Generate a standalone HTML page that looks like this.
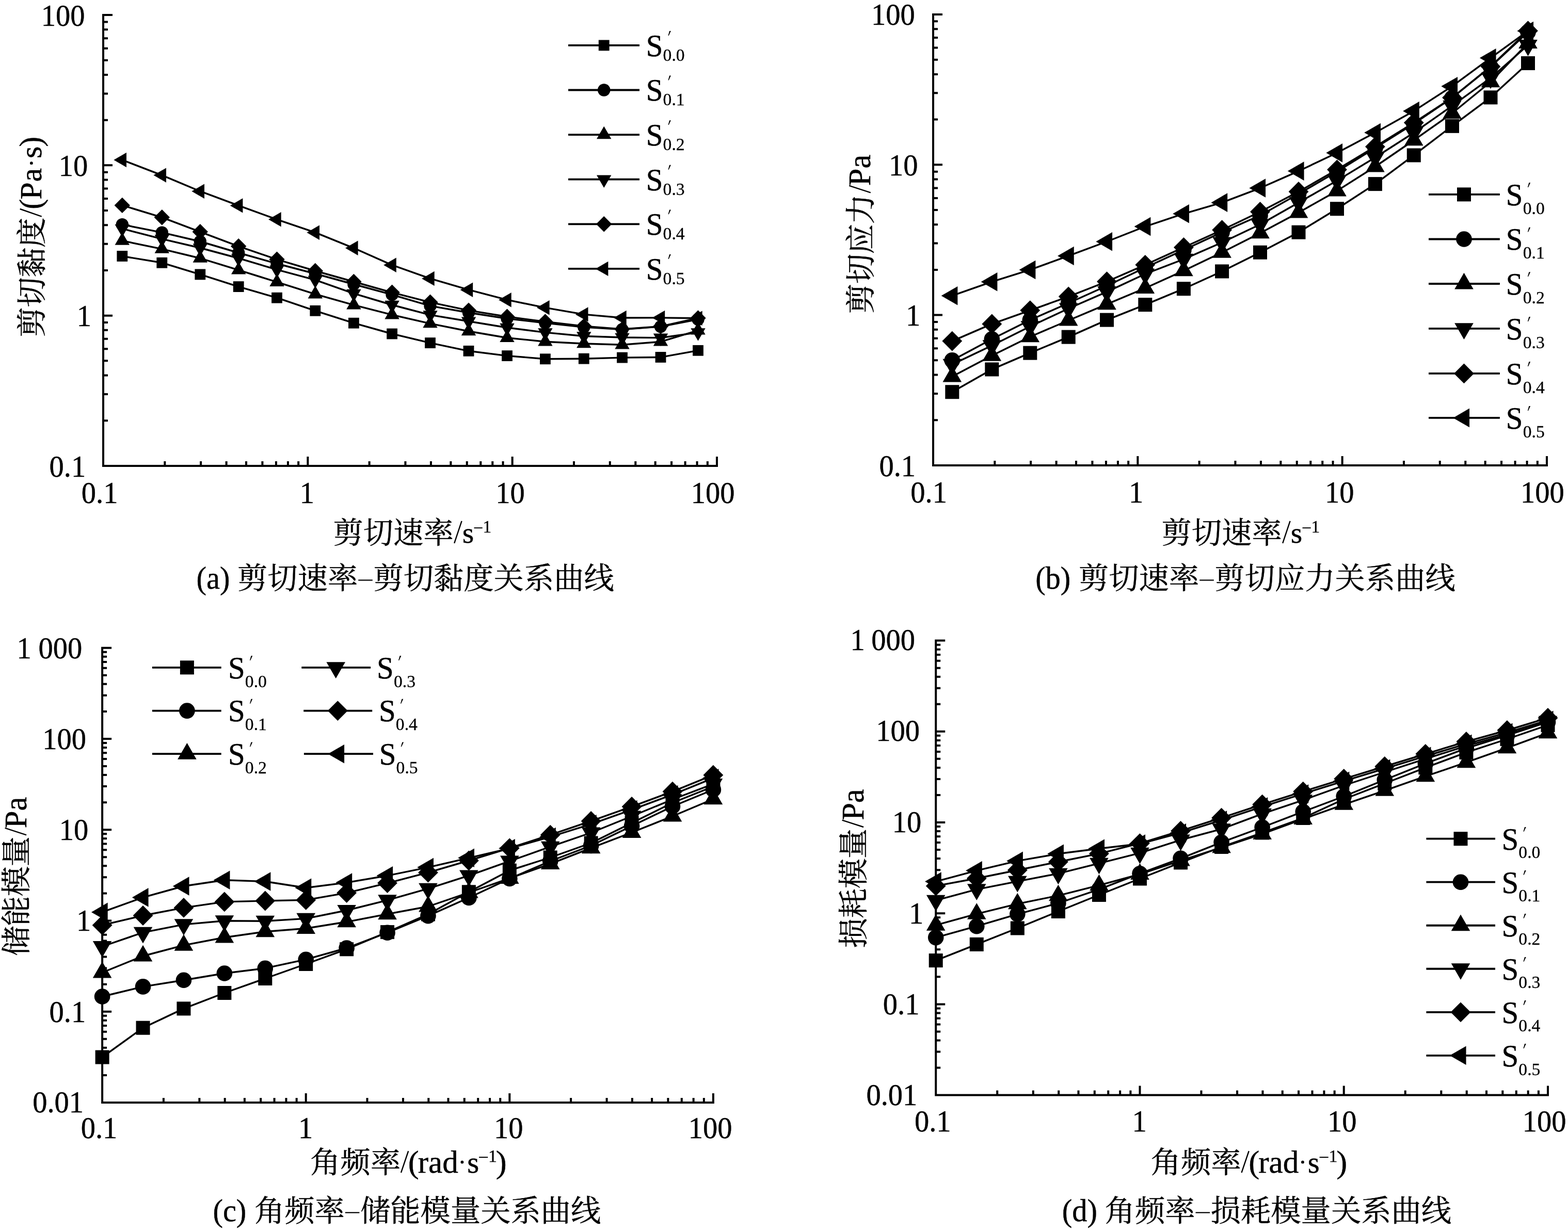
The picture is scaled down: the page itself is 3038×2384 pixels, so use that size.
<!DOCTYPE html>
<html><head><meta charset="utf-8"><title>chart</title><style>html,body{margin:0;padding:0;background:#fff}svg{display:block;will-change:transform}.t{stroke:#000;stroke-width:.45}.u{stroke:#000;stroke-width:.3}.k{font-family:"Liberation Serif","Noto Serif CJK SC",serif;font-size:58.3px;stroke:#000;stroke-width:.45}</style></head><body>
<svg width="3038" height="2384" viewBox="0 0 3038 2384" font-family="'Liberation Serif', serif" fill="#000">
<rect width="3038" height="2384" fill="#fff"/>
<path d="M200,27.1V904.91M198,902.91H1390.99M200,29.1h18M200,232.69h9M200,181.4h9M200,145.01h9M200,116.78h9M200,93.72h9M200,74.22h9M200,57.33h9M200,42.43h9M200,320.37h18M200,523.96h9M200,472.67h9M200,436.28h9M200,408.05h9M200,384.99h9M200,365.49h9M200,348.6h9M200,333.7h9M200,611.64h18M200,815.23h9M200,763.94h9M200,727.55h9M200,699.32h9M200,676.26h9M200,656.76h9M200,639.87h9M200,624.97h9M319.31,902.91v-9M389.1,902.91v-9M438.61,902.91v-9M477.02,902.91v-9M508.4,902.91v-9M534.94,902.91v-9M557.92,902.91v-9M578.19,902.91v-9M596.33,902.91v-18M715.64,902.91v-9M785.43,902.91v-9M834.94,902.91v-9M873.35,902.91v-9M904.73,902.91v-9M931.27,902.91v-9M954.25,902.91v-9M974.52,902.91v-9M992.66,902.91v-18M1111.97,902.91v-9M1181.76,902.91v-9M1231.27,902.91v-9M1269.68,902.91v-9M1301.06,902.91v-9M1327.6,902.91v-9M1350.58,902.91v-9M1370.85,902.91v-9M1388.99,902.91v-18" fill="none" stroke="#000" stroke-width="4.0"/>
<path d="M1808,26V903.9M1806,901.9H2998.99M1808,28h18M1808,231.61h9M1808,180.31h9M1808,143.92h9M1808,115.69h9M1808,92.62h9M1808,73.12h9M1808,56.23h9M1808,41.33h9M1808,319.3h18M1808,522.91h9M1808,471.61h9M1808,435.22h9M1808,406.99h9M1808,383.92h9M1808,364.42h9M1808,347.53h9M1808,332.63h9M1808,610.6h18M1808,814.21h9M1808,762.91h9M1808,726.52h9M1808,698.29h9M1808,675.22h9M1808,655.72h9M1808,638.83h9M1808,623.93h9M1927.31,901.9v-9M1997.1,901.9v-9M2046.61,901.9v-9M2085.02,901.9v-9M2116.4,901.9v-9M2142.94,901.9v-9M2165.92,901.9v-9M2186.19,901.9v-9M2204.33,901.9v-18M2323.64,901.9v-9M2393.43,901.9v-9M2442.94,901.9v-9M2481.35,901.9v-9M2512.73,901.9v-9M2539.27,901.9v-9M2562.25,901.9v-9M2582.52,901.9v-9M2600.66,901.9v-18M2719.97,901.9v-9M2789.76,901.9v-9M2839.27,901.9v-9M2877.68,901.9v-9M2909.06,901.9v-9M2935.6,901.9v-9M2958.58,901.9v-9M2978.85,901.9v-9M2996.99,901.9v-18" fill="none" stroke="#000" stroke-width="4.0"/>
<path d="M198.1,1253.7V2138.95M196.1,2136.95H1383.9M198.1,1255.7h18M198.1,1378.89h9M198.1,1347.86h9M198.1,1325.84h9M198.1,1308.76h9M198.1,1294.8h9M198.1,1283h9M198.1,1272.78h9M198.1,1263.76h9M198.1,1431.95h18M198.1,1555.14h9M198.1,1524.11h9M198.1,1502.09h9M198.1,1485.01h9M198.1,1471.05h9M198.1,1459.25h9M198.1,1449.03h9M198.1,1440.01h9M198.1,1608.2h18M198.1,1731.39h9M198.1,1700.36h9M198.1,1678.34h9M198.1,1661.26h9M198.1,1647.3h9M198.1,1635.5h9M198.1,1625.28h9M198.1,1616.26h9M198.1,1784.45h18M198.1,1907.64h9M198.1,1876.61h9M198.1,1854.59h9M198.1,1837.51h9M198.1,1823.55h9M198.1,1811.75h9M198.1,1801.53h9M198.1,1792.51h9M198.1,1960.7h18M198.1,2083.89h9M198.1,2052.86h9M198.1,2030.84h9M198.1,2013.76h9M198.1,1999.8h9M198.1,1988h9M198.1,1977.78h9M198.1,1968.76h9M316.89,2136.95v-9M386.37,2136.95v-9M435.67,2136.95v-9M473.91,2136.95v-9M505.16,2136.95v-9M531.58,2136.95v-9M554.46,2136.95v-9M574.64,2136.95v-9M592.7,2136.95v-18M711.49,2136.95v-9M780.97,2136.95v-9M830.27,2136.95v-9M868.51,2136.95v-9M899.76,2136.95v-9M926.18,2136.95v-9M949.06,2136.95v-9M969.24,2136.95v-9M987.3,2136.95v-18M1106.09,2136.95v-9M1175.57,2136.95v-9M1224.87,2136.95v-9M1263.11,2136.95v-9M1294.36,2136.95v-9M1320.78,2136.95v-9M1343.66,2136.95v-9M1363.84,2136.95v-9M1381.9,2136.95v-18" fill="none" stroke="#000" stroke-width="4.0"/>
<path d="M1813.2,1239.6V2124.6M1811.2,2122.6H3001.01M1813.2,1241.6h18M1813.2,1364.76h9M1813.2,1333.73h9M1813.2,1311.72h9M1813.2,1294.64h9M1813.2,1280.69h9M1813.2,1268.89h9M1813.2,1258.68h9M1813.2,1249.66h9M1813.2,1417.8h18M1813.2,1540.96h9M1813.2,1509.93h9M1813.2,1487.92h9M1813.2,1470.84h9M1813.2,1456.89h9M1813.2,1445.09h9M1813.2,1434.88h9M1813.2,1425.86h9M1813.2,1594h18M1813.2,1717.16h9M1813.2,1686.13h9M1813.2,1664.12h9M1813.2,1647.04h9M1813.2,1633.09h9M1813.2,1621.29h9M1813.2,1611.08h9M1813.2,1602.06h9M1813.2,1770.2h18M1813.2,1893.36h9M1813.2,1862.33h9M1813.2,1840.32h9M1813.2,1823.24h9M1813.2,1809.29h9M1813.2,1797.49h9M1813.2,1787.28h9M1813.2,1778.26h9M1813.2,1946.4h18M1813.2,2069.56h9M1813.2,2038.53h9M1813.2,2016.52h9M1813.2,1999.44h9M1813.2,1985.49h9M1813.2,1973.69h9M1813.2,1963.48h9M1813.2,1954.46h9M1932.19,2122.6v-9M2001.79,2122.6v-9M2051.18,2122.6v-9M2089.48,2122.6v-9M2120.78,2122.6v-9M2147.24,2122.6v-9M2170.16,2122.6v-9M2190.38,2122.6v-9M2208.47,2122.6v-18M2327.46,2122.6v-9M2397.06,2122.6v-9M2446.45,2122.6v-9M2484.75,2122.6v-9M2516.05,2122.6v-9M2542.51,2122.6v-9M2565.43,2122.6v-9M2585.65,2122.6v-9M2603.74,2122.6v-18M2722.73,2122.6v-9M2792.33,2122.6v-9M2841.72,2122.6v-9M2880.02,2122.6v-9M2911.32,2122.6v-9M2937.78,2122.6v-9M2960.7,2122.6v-9M2980.92,2122.6v-9M2999.01,2122.6v-18" fill="none" stroke="#000" stroke-width="4.0"/>
<polyline points="236.8,496.5 313.8,509.3 387.8,531.9 462.2,555.6 536.5,577.2 610.8,602.3 685.4,626.2 759.6,647 833.5,664.6 908,680.3 982.5,689.6 1056.4,695.8 1131.3,695.2 1205.5,693.1 1280,692.4 1352.5,679.3" fill="none" stroke="#000" stroke-width="3.4" stroke-linejoin="round"/>
<rect x="226.4" y="486.1" width="20.8" height="20.8"/>
<rect x="303.4" y="498.9" width="20.8" height="20.8"/>
<rect x="377.4" y="521.5" width="20.8" height="20.8"/>
<rect x="451.8" y="545.2" width="20.8" height="20.8"/>
<rect x="526.1" y="566.8" width="20.8" height="20.8"/>
<rect x="600.4" y="591.9" width="20.8" height="20.8"/>
<rect x="675" y="615.8" width="20.8" height="20.8"/>
<rect x="749.2" y="636.6" width="20.8" height="20.8"/>
<rect x="823.1" y="654.2" width="20.8" height="20.8"/>
<rect x="897.6" y="669.9" width="20.8" height="20.8"/>
<rect x="972.1" y="679.2" width="20.8" height="20.8"/>
<rect x="1046" y="685.4" width="20.8" height="20.8"/>
<rect x="1120.9" y="684.8" width="20.8" height="20.8"/>
<rect x="1195.1" y="682.7" width="20.8" height="20.8"/>
<rect x="1269.6" y="682" width="20.8" height="20.8"/>
<rect x="1342.1" y="668.9" width="20.8" height="20.8"/>
<polyline points="236.8,435.2 313.8,450.7 387.8,468 462.2,490 536.5,511 610.8,530.5 685.4,551 759.6,571.2 833.5,592.9 908,606 982.5,617.5 1056.4,626 1131.3,634 1205.5,638.5 1280,633 1352.5,619" fill="none" stroke="#000" stroke-width="3.4" stroke-linejoin="round"/>
<circle cx="236.8" cy="435.2" r="12.2"/>
<circle cx="313.8" cy="450.7" r="12.2"/>
<circle cx="387.8" cy="468" r="12.2"/>
<circle cx="462.2" cy="490" r="12.2"/>
<circle cx="536.5" cy="511" r="12.2"/>
<circle cx="610.8" cy="530.5" r="12.2"/>
<circle cx="685.4" cy="551" r="12.2"/>
<circle cx="759.6" cy="571.2" r="12.2"/>
<circle cx="833.5" cy="592.9" r="12.2"/>
<circle cx="908" cy="606" r="12.2"/>
<circle cx="982.5" cy="617.5" r="12.2"/>
<circle cx="1056.4" cy="626" r="12.2"/>
<circle cx="1131.3" cy="634" r="12.2"/>
<circle cx="1205.5" cy="638.5" r="12.2"/>
<circle cx="1280" cy="633" r="12.2"/>
<circle cx="1352.5" cy="619" r="12.2"/>
<polyline points="236.8,466.6 313.8,482.6 387.8,500.5 462.2,523.4 536.5,546.7 610.8,570.2 685.4,591.2 759.6,610.2 833.5,627.1 908,642 982.5,654.8 1056.4,662.2 1131.3,666 1205.5,668.3 1280,662.3 1352.5,640.3" fill="none" stroke="#000" stroke-width="3.4" stroke-linejoin="round"/>
<polygon points="236.8,450.2 251,474.8 222.6,474.8"/>
<polygon points="313.8,466.2 328,490.8 299.6,490.8"/>
<polygon points="387.8,484.1 402,508.7 373.6,508.7"/>
<polygon points="462.2,507 476.4,531.6 448,531.6"/>
<polygon points="536.5,530.3 550.7,554.9 522.3,554.9"/>
<polygon points="610.8,553.8 625,578.4 596.6,578.4"/>
<polygon points="685.4,574.8 699.6,599.4 671.2,599.4"/>
<polygon points="759.6,593.8 773.8,618.4 745.4,618.4"/>
<polygon points="833.5,610.7 847.7,635.3 819.3,635.3"/>
<polygon points="908,625.6 922.2,650.2 893.8,650.2"/>
<polygon points="982.5,638.4 996.7,663 968.3,663"/>
<polygon points="1056.4,645.8 1070.6,670.4 1042.2,670.4"/>
<polygon points="1131.3,649.6 1145.5,674.2 1117.1,674.2"/>
<polygon points="1205.5,651.9 1219.7,676.5 1191.3,676.5"/>
<polygon points="1280,645.9 1294.2,670.5 1265.8,670.5"/>
<polygon points="1352.5,623.9 1366.7,648.5 1338.3,648.5"/>
<polyline points="236.8,443.2 313.8,463.2 387.8,480.5 462.2,500.5 536.5,522.7 610.8,542.7 685.4,568.9 759.6,591 833.5,610.4 908,622.8 982.5,635 1056.4,644.4 1131.3,651.5 1205.5,654 1280,654.7 1352.5,644.4" fill="none" stroke="#000" stroke-width="3.4" stroke-linejoin="round"/>
<polygon points="236.8,459.6 251,435 222.6,435"/>
<polygon points="313.8,479.6 328,455 299.6,455"/>
<polygon points="387.8,496.9 402,472.3 373.6,472.3"/>
<polygon points="462.2,516.9 476.4,492.3 448,492.3"/>
<polygon points="536.5,539.1 550.7,514.5 522.3,514.5"/>
<polygon points="610.8,559.1 625,534.5 596.6,534.5"/>
<polygon points="685.4,585.3 699.6,560.7 671.2,560.7"/>
<polygon points="759.6,607.4 773.8,582.8 745.4,582.8"/>
<polygon points="833.5,626.8 847.7,602.2 819.3,602.2"/>
<polygon points="908,639.2 922.2,614.6 893.8,614.6"/>
<polygon points="982.5,651.4 996.7,626.8 968.3,626.8"/>
<polygon points="1056.4,660.8 1070.6,636.2 1042.2,636.2"/>
<polygon points="1131.3,667.9 1145.5,643.3 1117.1,643.3"/>
<polygon points="1205.5,670.4 1219.7,645.8 1191.3,645.8"/>
<polygon points="1280,671.1 1294.2,646.5 1265.8,646.5"/>
<polygon points="1352.5,660.8 1366.7,636.2 1338.3,636.2"/>
<polyline points="236.8,397.9 313.8,421.3 387.8,449.3 462.2,477.3 536.5,502.8 610.8,525 685.4,546 759.6,566.8 833.5,585.8 908,601.6 982.5,613.7 1056.4,623.5 1131.3,632.1 1205.5,638 1280,632.6 1352.5,616.5" fill="none" stroke="#000" stroke-width="3.4" stroke-linejoin="round"/>
<polygon points="236.8,382.7 252,397.9 236.8,413.1 221.6,397.9"/>
<polygon points="313.8,406.1 329,421.3 313.8,436.5 298.6,421.3"/>
<polygon points="387.8,434.1 403,449.3 387.8,464.5 372.6,449.3"/>
<polygon points="462.2,462.1 477.4,477.3 462.2,492.5 447,477.3"/>
<polygon points="536.5,487.6 551.7,502.8 536.5,518 521.3,502.8"/>
<polygon points="610.8,509.8 626,525 610.8,540.2 595.6,525"/>
<polygon points="685.4,530.8 700.6,546 685.4,561.2 670.2,546"/>
<polygon points="759.6,551.6 774.8,566.8 759.6,582 744.4,566.8"/>
<polygon points="833.5,570.6 848.7,585.8 833.5,601 818.3,585.8"/>
<polygon points="908,586.4 923.2,601.6 908,616.8 892.8,601.6"/>
<polygon points="982.5,598.5 997.7,613.7 982.5,628.9 967.3,613.7"/>
<polygon points="1056.4,608.3 1071.6,623.5 1056.4,638.7 1041.2,623.5"/>
<polygon points="1131.3,616.9 1146.5,632.1 1131.3,647.3 1116.1,632.1"/>
<polygon points="1205.5,622.8 1220.7,638 1205.5,653.2 1190.3,638"/>
<polygon points="1280,617.4 1295.2,632.6 1280,647.8 1264.8,632.6"/>
<polygon points="1352.5,601.3 1367.7,616.5 1352.5,631.7 1337.3,616.5"/>
<polyline points="236.8,310 313.8,339.6 387.8,370.7 462.2,398.4 536.5,425.3 610.8,450.7 685.4,480.8 759.6,513.7 833.5,539.9 908,561.7 982.5,581.2 1056.4,596.3 1131.3,609.4 1205.5,616 1280,615.9 1352.5,616.8" fill="none" stroke="#000" stroke-width="3.4" stroke-linejoin="round"/>
<polygon points="220.4,310 245,295.8 245,324.2"/>
<polygon points="297.4,339.6 322,325.4 322,353.8"/>
<polygon points="371.4,370.7 396,356.5 396,384.9"/>
<polygon points="445.8,398.4 470.4,384.2 470.4,412.6"/>
<polygon points="520.1,425.3 544.7,411.1 544.7,439.5"/>
<polygon points="594.4,450.7 619,436.5 619,464.9"/>
<polygon points="669,480.8 693.6,466.6 693.6,495"/>
<polygon points="743.2,513.7 767.8,499.5 767.8,527.9"/>
<polygon points="817.1,539.9 841.7,525.7 841.7,554.1"/>
<polygon points="891.6,561.7 916.2,547.5 916.2,575.9"/>
<polygon points="966.1,581.2 990.7,567 990.7,595.4"/>
<polygon points="1040,596.3 1064.6,582.1 1064.6,610.5"/>
<polygon points="1114.9,609.4 1139.5,595.2 1139.5,623.6"/>
<polygon points="1189.1,616 1213.7,601.8 1213.7,630.2"/>
<polygon points="1263.6,615.9 1288.2,601.7 1288.2,630.1"/>
<polygon points="1336.1,616.8 1360.7,602.6 1360.7,631"/>
<polyline points="1844.8,759.71 1921.8,715.92 1995.8,684.13 2070.2,653.14 2144.5,620.13 2218.8,590.62 2293.4,559.69 2367.6,525.96 2441.5,489.24 2516,450.18 2590.5,404.73 2664.4,356.61 2739.3,300.96 2813.5,244.32 2888,188.87 2960.5,122.48" fill="none" stroke="#000" stroke-width="3.4" stroke-linejoin="round"/>
<rect x="1831.3" y="746.21" width="27" height="27"/>
<rect x="1908.3" y="702.42" width="27" height="27"/>
<rect x="1982.3" y="670.63" width="27" height="27"/>
<rect x="2056.7" y="639.64" width="27" height="27"/>
<rect x="2131" y="606.63" width="27" height="27"/>
<rect x="2205.3" y="577.12" width="27" height="27"/>
<rect x="2279.9" y="546.19" width="27" height="27"/>
<rect x="2354.1" y="512.46" width="27" height="27"/>
<rect x="2428" y="475.74" width="27" height="27"/>
<rect x="2502.5" y="436.68" width="27" height="27"/>
<rect x="2577" y="391.23" width="27" height="27"/>
<rect x="2650.9" y="343.11" width="27" height="27"/>
<rect x="2725.8" y="287.46" width="27" height="27"/>
<rect x="2800" y="230.82" width="27" height="27"/>
<rect x="2874.5" y="175.37" width="27" height="27"/>
<rect x="2947" y="108.98" width="27" height="27"/>
<polyline points="1844.8,698.41 1921.8,657.32 1995.8,620.23 2070.2,587.54 2144.5,553.93 2218.8,518.82 2293.4,484.49 2367.6,450.16 2441.5,417.54 2516,375.88 2590.5,332.63 2664.4,286.81 2739.3,239.76 2813.5,189.72 2888,129.47 2960.5,62.18" fill="none" stroke="#000" stroke-width="3.4" stroke-linejoin="round"/>
<circle cx="1844.8" cy="698.41" r="15.3"/>
<circle cx="1921.8" cy="657.32" r="15.3"/>
<circle cx="1995.8" cy="620.23" r="15.3"/>
<circle cx="2070.2" cy="587.54" r="15.3"/>
<circle cx="2144.5" cy="553.93" r="15.3"/>
<circle cx="2218.8" cy="518.82" r="15.3"/>
<circle cx="2293.4" cy="484.49" r="15.3"/>
<circle cx="2367.6" cy="450.16" r="15.3"/>
<circle cx="2441.5" cy="417.54" r="15.3"/>
<circle cx="2516" cy="375.88" r="15.3"/>
<circle cx="2590.5" cy="332.63" r="15.3"/>
<circle cx="2664.4" cy="286.81" r="15.3"/>
<circle cx="2739.3" cy="239.76" r="15.3"/>
<circle cx="2813.5" cy="189.72" r="15.3"/>
<circle cx="2888" cy="129.47" r="15.3"/>
<circle cx="2960.5" cy="62.18" r="15.3"/>
<polyline points="1844.8,729.81 1921.8,689.22 1995.8,652.73 2070.2,620.94 2144.5,589.63 2218.8,558.52 2293.4,524.69 2367.6,489.16 2441.5,451.74 2516,411.88 2590.5,369.93 2664.4,323.01 2739.3,271.76 2813.5,219.52 2888,158.77 2960.5,83.48" fill="none" stroke="#000" stroke-width="3.4" stroke-linejoin="round"/>
<polygon points="1844.8,708.68 1863.1,740.38 1826.5,740.38"/>
<polygon points="1921.8,668.09 1940.1,699.78 1903.5,699.78"/>
<polygon points="1995.8,631.6 2014.1,663.29 1977.5,663.29"/>
<polygon points="2070.2,599.81 2088.5,631.51 2051.9,631.51"/>
<polygon points="2144.5,568.5 2162.8,600.2 2126.2,600.2"/>
<polygon points="2218.8,537.39 2237.1,569.09 2200.5,569.09"/>
<polygon points="2293.4,503.56 2311.7,535.26 2275.1,535.26"/>
<polygon points="2367.6,468.03 2385.9,499.72 2349.3,499.72"/>
<polygon points="2441.5,430.61 2459.8,462.31 2423.2,462.31"/>
<polygon points="2516,390.75 2534.3,422.45 2497.7,422.45"/>
<polygon points="2590.5,348.8 2608.8,380.49 2572.2,380.49"/>
<polygon points="2664.4,301.88 2682.7,333.58 2646.1,333.58"/>
<polygon points="2739.3,250.63 2757.6,282.33 2721,282.33"/>
<polygon points="2813.5,198.39 2831.8,230.09 2795.2,230.09"/>
<polygon points="2888,137.64 2906.3,169.33 2869.7,169.33"/>
<polygon points="2960.5,62.35 2978.8,94.05 2942.2,94.05"/>
<polyline points="1844.8,706.41 1921.8,669.82 1995.8,632.73 2070.2,598.04 2144.5,565.63 2218.8,531.02 2293.4,502.39 2367.6,469.96 2441.5,435.04 2516,392.68 2590.5,350.13 2664.4,305.21 2739.3,257.26 2813.5,205.22 2888,151.17 2960.5,87.58" fill="none" stroke="#000" stroke-width="3.4" stroke-linejoin="round"/>
<polygon points="1844.8,727.54 1863.1,695.85 1826.5,695.85"/>
<polygon points="1921.8,690.95 1940.1,659.25 1903.5,659.25"/>
<polygon points="1995.8,653.86 2014.1,622.16 1977.5,622.16"/>
<polygon points="2070.2,619.18 2088.5,587.48 2051.9,587.48"/>
<polygon points="2144.5,586.77 2162.8,555.07 2126.2,555.07"/>
<polygon points="2218.8,552.16 2237.1,520.46 2200.5,520.46"/>
<polygon points="2293.4,523.53 2311.7,491.83 2275.1,491.83"/>
<polygon points="2367.6,491.09 2385.9,459.39 2349.3,459.39"/>
<polygon points="2441.5,456.17 2459.8,424.48 2423.2,424.48"/>
<polygon points="2516,413.82 2534.3,382.12 2497.7,382.12"/>
<polygon points="2590.5,371.26 2608.8,339.56 2572.2,339.56"/>
<polygon points="2664.4,326.34 2682.7,294.65 2646.1,294.65"/>
<polygon points="2739.3,278.39 2757.6,246.69 2721,246.69"/>
<polygon points="2813.5,226.35 2831.8,194.66 2795.2,194.66"/>
<polygon points="2888,172.3 2906.3,140.6 2869.7,140.6"/>
<polygon points="2960.5,108.71 2978.8,77.01 2942.2,77.01"/>
<polyline points="1844.8,661.11 1921.8,627.92 1995.8,601.53 2070.2,574.84 2144.5,545.73 2218.8,513.32 2293.4,479.49 2367.6,445.76 2441.5,410.44 2516,371.48 2590.5,328.83 2664.4,284.31 2739.3,237.86 2813.5,189.22 2888,129.07 2960.5,59.68" fill="none" stroke="#000" stroke-width="3.4" stroke-linejoin="round"/>
<polygon points="1844.8,641.71 1864.2,661.11 1844.8,680.51 1825.4,661.11"/>
<polygon points="1921.8,608.52 1941.2,627.92 1921.8,647.32 1902.4,627.92"/>
<polygon points="1995.8,582.13 2015.2,601.53 1995.8,620.93 1976.4,601.53"/>
<polygon points="2070.2,555.44 2089.6,574.84 2070.2,594.24 2050.8,574.84"/>
<polygon points="2144.5,526.33 2163.9,545.73 2144.5,565.13 2125.1,545.73"/>
<polygon points="2218.8,493.92 2238.2,513.32 2218.8,532.72 2199.4,513.32"/>
<polygon points="2293.4,460.09 2312.8,479.49 2293.4,498.89 2274,479.49"/>
<polygon points="2367.6,426.36 2387,445.76 2367.6,465.16 2348.2,445.76"/>
<polygon points="2441.5,391.04 2460.9,410.44 2441.5,429.84 2422.1,410.44"/>
<polygon points="2516,352.08 2535.4,371.48 2516,390.88 2496.6,371.48"/>
<polygon points="2590.5,309.43 2609.9,328.83 2590.5,348.23 2571.1,328.83"/>
<polygon points="2664.4,264.91 2683.8,284.31 2664.4,303.71 2645,284.31"/>
<polygon points="2739.3,218.46 2758.7,237.86 2739.3,257.26 2719.9,237.86"/>
<polygon points="2813.5,169.82 2832.9,189.22 2813.5,208.62 2794.1,189.22"/>
<polygon points="2888,109.67 2907.4,129.07 2888,148.47 2868.6,129.07"/>
<polygon points="2960.5,40.28 2979.9,59.68 2960.5,79.08 2941.1,59.68"/>
<polyline points="1844.8,573.21 1921.8,546.22 1995.8,522.93 2070.2,495.94 2144.5,468.23 2218.8,439.02 2293.4,414.29 2367.6,392.66 2441.5,364.54 2516,331.58 2590.5,296.33 2664.4,257.11 2739.3,215.16 2813.5,167.22 2888,112.37 2960.5,59.98" fill="none" stroke="#000" stroke-width="3.4" stroke-linejoin="round"/>
<polygon points="1823.67,573.21 1855.37,554.91 1855.37,591.51"/>
<polygon points="1900.67,546.22 1932.37,527.92 1932.37,564.52"/>
<polygon points="1974.67,522.93 2006.37,504.63 2006.37,541.23"/>
<polygon points="2049.07,495.94 2080.77,477.64 2080.77,514.24"/>
<polygon points="2123.37,468.23 2155.07,449.93 2155.07,486.53"/>
<polygon points="2197.67,439.02 2229.37,420.72 2229.37,457.32"/>
<polygon points="2272.27,414.29 2303.97,395.99 2303.97,432.59"/>
<polygon points="2346.47,392.66 2378.17,374.36 2378.17,410.96"/>
<polygon points="2420.37,364.54 2452.07,346.24 2452.07,382.84"/>
<polygon points="2494.87,331.58 2526.57,313.28 2526.57,349.88"/>
<polygon points="2569.37,296.33 2601.07,278.03 2601.07,314.63"/>
<polygon points="2643.27,257.11 2674.97,238.81 2674.97,275.41"/>
<polygon points="2718.17,215.16 2749.87,196.86 2749.87,233.46"/>
<polygon points="2792.37,167.22 2824.07,148.92 2824.07,185.52"/>
<polygon points="2866.87,112.37 2898.57,94.07 2898.57,130.67"/>
<polygon points="2939.37,59.98 2971.07,41.68 2971.07,78.28"/>
<polyline points="198.1,2049 277.02,1992.2 355.94,1954.9 434.86,1924.5 513.78,1896.5 592.7,1868.5 671.62,1839.8 750.54,1806.6 829.46,1772 908.38,1728.8 987.3,1687.2 1066.22,1662 1145.14,1634 1224.06,1595 1302.98,1556 1381.9,1524.5" fill="none" stroke="#000" stroke-width="3.4" stroke-linejoin="round"/>
<rect x="184.6" y="2035.5" width="27" height="27"/>
<rect x="263.52" y="1978.7" width="27" height="27"/>
<rect x="342.44" y="1941.4" width="27" height="27"/>
<rect x="421.36" y="1911" width="27" height="27"/>
<rect x="500.28" y="1883" width="27" height="27"/>
<rect x="579.2" y="1855" width="27" height="27"/>
<rect x="658.12" y="1826.3" width="27" height="27"/>
<rect x="737.04" y="1793.1" width="27" height="27"/>
<rect x="815.96" y="1758.5" width="27" height="27"/>
<rect x="894.88" y="1715.3" width="27" height="27"/>
<rect x="973.8" y="1673.7" width="27" height="27"/>
<rect x="1052.72" y="1648.5" width="27" height="27"/>
<rect x="1131.64" y="1620.5" width="27" height="27"/>
<rect x="1210.56" y="1581.5" width="27" height="27"/>
<rect x="1289.48" y="1542.5" width="27" height="27"/>
<rect x="1368.4" y="1511" width="27" height="27"/>
<polyline points="198.1,1931.5 277.02,1912.4 355.94,1899.8 434.86,1886.5 513.78,1876.7 592.7,1859.7 671.62,1837.5 750.54,1807.7 829.46,1775.1 908.38,1740 987.3,1703 1066.22,1669 1145.14,1639 1224.06,1601 1302.98,1563 1381.9,1530.5" fill="none" stroke="#000" stroke-width="3.4" stroke-linejoin="round"/>
<circle cx="198.1" cy="1931.5" r="15.3"/>
<circle cx="277.02" cy="1912.4" r="15.3"/>
<circle cx="355.94" cy="1899.8" r="15.3"/>
<circle cx="434.86" cy="1886.5" r="15.3"/>
<circle cx="513.78" cy="1876.7" r="15.3"/>
<circle cx="592.7" cy="1859.7" r="15.3"/>
<circle cx="671.62" cy="1837.5" r="15.3"/>
<circle cx="750.54" cy="1807.7" r="15.3"/>
<circle cx="829.46" cy="1775.1" r="15.3"/>
<circle cx="908.38" cy="1740" r="15.3"/>
<circle cx="987.3" cy="1703" r="15.3"/>
<circle cx="1066.22" cy="1669" r="15.3"/>
<circle cx="1145.14" cy="1639" r="15.3"/>
<circle cx="1224.06" cy="1601" r="15.3"/>
<circle cx="1302.98" cy="1563" r="15.3"/>
<circle cx="1381.9" cy="1530.5" r="15.3"/>
<polyline points="198.1,1885 277.02,1853 355.94,1832.2 434.86,1817 513.78,1805.8 592.7,1799.5 671.62,1786.8 750.54,1771.7 829.46,1757 908.38,1730 987.3,1702.4 1066.22,1674.4 1145.14,1643.7 1224.06,1613.5 1302.98,1582 1381.9,1548.7" fill="none" stroke="#000" stroke-width="3.4" stroke-linejoin="round"/>
<polygon points="198.1,1863.87 216.4,1895.57 179.8,1895.57"/>
<polygon points="277.02,1831.87 295.32,1863.57 258.72,1863.57"/>
<polygon points="355.94,1811.07 374.24,1842.77 337.64,1842.77"/>
<polygon points="434.86,1795.87 453.16,1827.57 416.56,1827.57"/>
<polygon points="513.78,1784.67 532.08,1816.37 495.48,1816.37"/>
<polygon points="592.7,1778.37 611,1810.07 574.4,1810.07"/>
<polygon points="671.62,1765.67 689.92,1797.37 653.32,1797.37"/>
<polygon points="750.54,1750.57 768.84,1782.27 732.24,1782.27"/>
<polygon points="829.46,1735.87 847.76,1767.57 811.16,1767.57"/>
<polygon points="908.38,1708.87 926.68,1740.57 890.08,1740.57"/>
<polygon points="987.3,1681.27 1005.6,1712.97 969,1712.97"/>
<polygon points="1066.22,1653.27 1084.52,1684.97 1047.92,1684.97"/>
<polygon points="1145.14,1622.57 1163.44,1654.27 1126.84,1654.27"/>
<polygon points="1224.06,1592.37 1242.36,1624.07 1205.76,1624.07"/>
<polygon points="1302.98,1560.87 1321.28,1592.57 1284.68,1592.57"/>
<polygon points="1381.9,1527.57 1400.2,1559.27 1363.6,1559.27"/>
<polyline points="198.1,1834.5 277.02,1807.4 355.94,1791.9 434.86,1784.7 513.78,1785.2 592.7,1780.4 671.62,1764.5 750.54,1744.8 829.46,1722.4 908.38,1697.1 987.3,1669.1 1066.22,1641.2 1145.14,1614 1224.06,1582 1302.98,1549.5 1381.9,1519.5" fill="none" stroke="#000" stroke-width="3.4" stroke-linejoin="round"/>
<polygon points="198.1,1855.63 216.4,1823.93 179.8,1823.93"/>
<polygon points="277.02,1828.53 295.32,1796.83 258.72,1796.83"/>
<polygon points="355.94,1813.03 374.24,1781.33 337.64,1781.33"/>
<polygon points="434.86,1805.83 453.16,1774.13 416.56,1774.13"/>
<polygon points="513.78,1806.33 532.08,1774.63 495.48,1774.63"/>
<polygon points="592.7,1801.53 611,1769.83 574.4,1769.83"/>
<polygon points="671.62,1785.63 689.92,1753.93 653.32,1753.93"/>
<polygon points="750.54,1765.93 768.84,1734.23 732.24,1734.23"/>
<polygon points="829.46,1743.53 847.76,1711.83 811.16,1711.83"/>
<polygon points="908.38,1718.23 926.68,1686.53 890.08,1686.53"/>
<polygon points="987.3,1690.23 1005.6,1658.53 969,1658.53"/>
<polygon points="1066.22,1662.33 1084.52,1630.63 1047.92,1630.63"/>
<polygon points="1145.14,1635.13 1163.44,1603.43 1126.84,1603.43"/>
<polygon points="1224.06,1603.13 1242.36,1571.43 1205.76,1571.43"/>
<polygon points="1302.98,1570.63 1321.28,1538.93 1284.68,1538.93"/>
<polygon points="1381.9,1540.63 1400.2,1508.93 1363.6,1508.93"/>
<polyline points="198.1,1793.2 277.02,1774.5 355.94,1759.4 434.86,1747.9 513.78,1746 592.7,1744.4 671.62,1730.6 750.54,1711.6 829.46,1691.2 908.38,1668 987.3,1643.8 1066.22,1618.2 1145.14,1591.4 1224.06,1563.4 1302.98,1534.2 1381.9,1502.2" fill="none" stroke="#000" stroke-width="3.4" stroke-linejoin="round"/>
<polygon points="198.1,1773.8 217.5,1793.2 198.1,1812.6 178.7,1793.2"/>
<polygon points="277.02,1755.1 296.42,1774.5 277.02,1793.9 257.62,1774.5"/>
<polygon points="355.94,1740 375.34,1759.4 355.94,1778.8 336.54,1759.4"/>
<polygon points="434.86,1728.5 454.26,1747.9 434.86,1767.3 415.46,1747.9"/>
<polygon points="513.78,1726.6 533.18,1746 513.78,1765.4 494.38,1746"/>
<polygon points="592.7,1725 612.1,1744.4 592.7,1763.8 573.3,1744.4"/>
<polygon points="671.62,1711.2 691.02,1730.6 671.62,1750 652.22,1730.6"/>
<polygon points="750.54,1692.2 769.94,1711.6 750.54,1731 731.14,1711.6"/>
<polygon points="829.46,1671.8 848.86,1691.2 829.46,1710.6 810.06,1691.2"/>
<polygon points="908.38,1648.6 927.78,1668 908.38,1687.4 888.98,1668"/>
<polygon points="987.3,1624.4 1006.7,1643.8 987.3,1663.2 967.9,1643.8"/>
<polygon points="1066.22,1598.8 1085.62,1618.2 1066.22,1637.6 1046.82,1618.2"/>
<polygon points="1145.14,1572 1164.54,1591.4 1145.14,1610.8 1125.74,1591.4"/>
<polygon points="1224.06,1544 1243.46,1563.4 1224.06,1582.8 1204.66,1563.4"/>
<polygon points="1302.98,1514.8 1322.38,1534.2 1302.98,1553.6 1283.58,1534.2"/>
<polygon points="1381.9,1482.8 1401.3,1502.2 1381.9,1521.6 1362.5,1502.2"/>
<polyline points="198.1,1767.9 277.02,1739.4 355.94,1717.5 434.86,1705.8 513.78,1708.5 592.7,1720.7 671.62,1710.6 750.54,1697.2 829.46,1681.1 908.38,1662.8 987.3,1644.3 1066.22,1622 1145.14,1597.4 1224.06,1569.4 1302.98,1540.2 1381.9,1508.2" fill="none" stroke="#000" stroke-width="3.4" stroke-linejoin="round"/>
<polygon points="176.97,1767.9 208.67,1749.6 208.67,1786.2"/>
<polygon points="255.89,1739.4 287.59,1721.1 287.59,1757.7"/>
<polygon points="334.81,1717.5 366.51,1699.2 366.51,1735.8"/>
<polygon points="413.73,1705.8 445.43,1687.5 445.43,1724.1"/>
<polygon points="492.65,1708.5 524.35,1690.2 524.35,1726.8"/>
<polygon points="571.57,1720.7 603.27,1702.4 603.27,1739"/>
<polygon points="650.49,1710.6 682.19,1692.3 682.19,1728.9"/>
<polygon points="729.41,1697.2 761.11,1678.9 761.11,1715.5"/>
<polygon points="808.33,1681.1 840.03,1662.8 840.03,1699.4"/>
<polygon points="887.25,1662.8 918.95,1644.5 918.95,1681.1"/>
<polygon points="966.17,1644.3 997.87,1626 997.87,1662.6"/>
<polygon points="1045.09,1622 1076.79,1603.7 1076.79,1640.3"/>
<polygon points="1124.01,1597.4 1155.71,1579.1 1155.71,1615.7"/>
<polygon points="1202.93,1569.4 1234.63,1551.1 1234.63,1587.7"/>
<polygon points="1281.85,1540.2 1313.55,1521.9 1313.55,1558.5"/>
<polygon points="1360.77,1508.2 1392.47,1489.9 1392.47,1526.5"/>
<polyline points="1813.2,1861.6 1892.25,1830.4 1971.31,1799 2050.36,1766.5 2129.42,1734.5 2208.47,1703 2287.52,1671.9 2366.58,1641.5 2445.63,1614 2524.69,1585.5 2603.74,1549 2682.79,1518.5 2761.85,1487.8 2840.9,1458.4 2919.96,1432.5 2999.01,1405.4" fill="none" stroke="#000" stroke-width="3.4" stroke-linejoin="round"/>
<rect x="1799.7" y="1848.1" width="27" height="27"/>
<rect x="1878.75" y="1816.9" width="27" height="27"/>
<rect x="1957.81" y="1785.5" width="27" height="27"/>
<rect x="2036.86" y="1753" width="27" height="27"/>
<rect x="2115.92" y="1721" width="27" height="27"/>
<rect x="2194.97" y="1689.5" width="27" height="27"/>
<rect x="2274.02" y="1658.4" width="27" height="27"/>
<rect x="2353.08" y="1628" width="27" height="27"/>
<rect x="2432.13" y="1600.5" width="27" height="27"/>
<rect x="2511.19" y="1572" width="27" height="27"/>
<rect x="2590.24" y="1535.5" width="27" height="27"/>
<rect x="2669.29" y="1505" width="27" height="27"/>
<rect x="2748.35" y="1474.3" width="27" height="27"/>
<rect x="2827.4" y="1444.9" width="27" height="27"/>
<rect x="2906.46" y="1419" width="27" height="27"/>
<rect x="2985.51" y="1391.9" width="27" height="27"/>
<polyline points="1813.2,1817.1 1892.25,1795.2 1971.31,1771.8 2050.36,1750.5 2129.42,1723.8 2208.47,1693.2 2287.52,1663.9 2366.58,1632.6 2445.63,1603.5 2524.69,1573.2 2603.74,1543.5 2682.79,1511.5 2761.85,1479.8 2840.9,1450.4 2919.96,1425.5 2999.01,1399.4" fill="none" stroke="#000" stroke-width="3.4" stroke-linejoin="round"/>
<circle cx="1813.2" cy="1817.1" r="15.3"/>
<circle cx="1892.25" cy="1795.2" r="15.3"/>
<circle cx="1971.31" cy="1771.8" r="15.3"/>
<circle cx="2050.36" cy="1750.5" r="15.3"/>
<circle cx="2129.42" cy="1723.8" r="15.3"/>
<circle cx="2208.47" cy="1693.2" r="15.3"/>
<circle cx="2287.52" cy="1663.9" r="15.3"/>
<circle cx="2366.58" cy="1632.6" r="15.3"/>
<circle cx="2445.63" cy="1603.5" r="15.3"/>
<circle cx="2524.69" cy="1573.2" r="15.3"/>
<circle cx="2603.74" cy="1543.5" r="15.3"/>
<circle cx="2682.79" cy="1511.5" r="15.3"/>
<circle cx="2761.85" cy="1479.8" r="15.3"/>
<circle cx="2840.9" cy="1450.4" r="15.3"/>
<circle cx="2919.96" cy="1425.5" r="15.3"/>
<circle cx="2999.01" cy="1399.4" r="15.3"/>
<polyline points="1813.2,1793.1 1892.25,1771.3 1971.31,1751.8 2050.36,1735.8 2129.42,1715.8 2208.47,1694.5 2287.52,1668 2366.58,1642.7 2445.63,1616.5 2524.69,1587.5 2603.74,1559.3 2682.79,1532.3 2761.85,1504.7 2840.9,1477.6 2919.96,1449.7 2999.01,1420.6" fill="none" stroke="#000" stroke-width="3.4" stroke-linejoin="round"/>
<polygon points="1813.2,1771.97 1831.5,1803.67 1794.9,1803.67"/>
<polygon points="1892.25,1750.17 1910.55,1781.87 1873.95,1781.87"/>
<polygon points="1971.31,1730.67 1989.61,1762.37 1953.01,1762.37"/>
<polygon points="2050.36,1714.67 2068.66,1746.37 2032.06,1746.37"/>
<polygon points="2129.42,1694.67 2147.72,1726.37 2111.12,1726.37"/>
<polygon points="2208.47,1673.37 2226.77,1705.07 2190.17,1705.07"/>
<polygon points="2287.52,1646.87 2305.82,1678.57 2269.22,1678.57"/>
<polygon points="2366.58,1621.57 2384.88,1653.27 2348.28,1653.27"/>
<polygon points="2445.63,1595.37 2463.93,1627.07 2427.33,1627.07"/>
<polygon points="2524.69,1566.37 2542.99,1598.07 2506.39,1598.07"/>
<polygon points="2603.74,1538.17 2622.04,1569.87 2585.44,1569.87"/>
<polygon points="2682.79,1511.17 2701.09,1542.87 2664.49,1542.87"/>
<polygon points="2761.85,1483.57 2780.15,1515.27 2743.55,1515.27"/>
<polygon points="2840.9,1456.47 2859.2,1488.17 2822.6,1488.17"/>
<polygon points="2919.96,1428.57 2938.26,1460.27 2901.66,1460.27"/>
<polygon points="2999.01,1399.47 3017.31,1431.17 2980.71,1431.17"/>
<polyline points="1813.2,1745.2 1892.25,1723.9 1971.31,1708.4 2050.36,1693.2 2129.42,1673.3 2208.47,1653.3 2287.52,1628 2366.58,1606.8 2445.63,1577.4 2524.69,1550.8 2603.74,1522.5 2682.79,1496.5 2761.85,1470.8 2840.9,1445.9 2919.96,1423.5 2999.01,1398.4" fill="none" stroke="#000" stroke-width="3.4" stroke-linejoin="round"/>
<polygon points="1813.2,1766.33 1831.5,1734.63 1794.9,1734.63"/>
<polygon points="1892.25,1745.03 1910.55,1713.33 1873.95,1713.33"/>
<polygon points="1971.31,1729.53 1989.61,1697.83 1953.01,1697.83"/>
<polygon points="2050.36,1714.33 2068.66,1682.63 2032.06,1682.63"/>
<polygon points="2129.42,1694.43 2147.72,1662.73 2111.12,1662.73"/>
<polygon points="2208.47,1674.43 2226.77,1642.73 2190.17,1642.73"/>
<polygon points="2287.52,1649.13 2305.82,1617.43 2269.22,1617.43"/>
<polygon points="2366.58,1627.93 2384.88,1596.23 2348.28,1596.23"/>
<polygon points="2445.63,1598.53 2463.93,1566.83 2427.33,1566.83"/>
<polygon points="2524.69,1571.93 2542.99,1540.23 2506.39,1540.23"/>
<polygon points="2603.74,1543.63 2622.04,1511.93 2585.44,1511.93"/>
<polygon points="2682.79,1517.63 2701.09,1485.93 2664.49,1485.93"/>
<polygon points="2761.85,1491.93 2780.15,1460.23 2743.55,1460.23"/>
<polygon points="2840.9,1467.03 2859.2,1435.33 2822.6,1435.33"/>
<polygon points="2919.96,1444.63 2938.26,1412.93 2901.66,1412.93"/>
<polygon points="2999.01,1419.53 3017.31,1387.83 2980.71,1387.83"/>
<polyline points="1813.2,1717.2 1892.25,1702.5 1971.31,1686.5 2050.36,1670.5 2129.42,1654.6 2208.47,1634.6 2287.52,1610.4 2366.58,1585.2 2445.63,1559.2 2524.69,1534.1 2603.74,1509.5 2682.79,1485.5 2761.85,1461.3 2840.9,1437.4 2919.96,1415.5 2999.01,1391.4" fill="none" stroke="#000" stroke-width="3.4" stroke-linejoin="round"/>
<polygon points="1813.2,1697.8 1832.6,1717.2 1813.2,1736.6 1793.8,1717.2"/>
<polygon points="1892.25,1683.1 1911.65,1702.5 1892.25,1721.9 1872.85,1702.5"/>
<polygon points="1971.31,1667.1 1990.71,1686.5 1971.31,1705.9 1951.91,1686.5"/>
<polygon points="2050.36,1651.1 2069.76,1670.5 2050.36,1689.9 2030.96,1670.5"/>
<polygon points="2129.42,1635.2 2148.82,1654.6 2129.42,1674 2110.02,1654.6"/>
<polygon points="2208.47,1615.2 2227.87,1634.6 2208.47,1654 2189.07,1634.6"/>
<polygon points="2287.52,1591 2306.92,1610.4 2287.52,1629.8 2268.12,1610.4"/>
<polygon points="2366.58,1565.8 2385.98,1585.2 2366.58,1604.6 2347.18,1585.2"/>
<polygon points="2445.63,1539.8 2465.03,1559.2 2445.63,1578.6 2426.23,1559.2"/>
<polygon points="2524.69,1514.7 2544.09,1534.1 2524.69,1553.5 2505.29,1534.1"/>
<polygon points="2603.74,1490.1 2623.14,1509.5 2603.74,1528.9 2584.34,1509.5"/>
<polygon points="2682.79,1466.1 2702.19,1485.5 2682.79,1504.9 2663.39,1485.5"/>
<polygon points="2761.85,1441.9 2781.25,1461.3 2761.85,1480.7 2742.45,1461.3"/>
<polygon points="2840.9,1418 2860.3,1437.4 2840.9,1456.8 2821.5,1437.4"/>
<polygon points="2919.96,1396.1 2939.36,1415.5 2919.96,1434.9 2900.56,1415.5"/>
<polygon points="2999.01,1372 3018.41,1391.4 2999.01,1410.8 2979.61,1391.4"/>
<polyline points="1813.2,1708.6 1892.25,1687.3 1971.31,1668.7 2050.36,1654.8 2129.42,1644.7 2208.47,1635.5 2287.52,1614.4 2366.58,1589.6 2445.63,1563.6 2524.69,1538.5 2603.74,1513.9 2682.79,1489.9 2761.85,1465.7 2840.9,1441.8 2919.96,1419.9 2999.01,1395.8" fill="none" stroke="#000" stroke-width="3.4" stroke-linejoin="round"/>
<polygon points="1792.07,1708.6 1823.77,1690.3 1823.77,1726.9"/>
<polygon points="1871.12,1687.3 1902.82,1669 1902.82,1705.6"/>
<polygon points="1950.18,1668.7 1981.87,1650.4 1981.87,1687"/>
<polygon points="2029.23,1654.8 2060.93,1636.5 2060.93,1673.1"/>
<polygon points="2108.28,1644.7 2139.98,1626.4 2139.98,1663"/>
<polygon points="2187.34,1635.5 2219.04,1617.2 2219.04,1653.8"/>
<polygon points="2266.39,1614.4 2298.09,1596.1 2298.09,1632.7"/>
<polygon points="2345.45,1589.6 2377.14,1571.3 2377.14,1607.9"/>
<polygon points="2424.5,1563.6 2456.2,1545.3 2456.2,1581.9"/>
<polygon points="2503.55,1538.5 2535.25,1520.2 2535.25,1556.8"/>
<polygon points="2582.61,1513.9 2614.31,1495.6 2614.31,1532.2"/>
<polygon points="2661.66,1489.9 2693.36,1471.6 2693.36,1508.2"/>
<polygon points="2740.72,1465.7 2772.41,1447.4 2772.41,1484"/>
<polygon points="2819.77,1441.8 2851.47,1423.5 2851.47,1460.1"/>
<polygon points="2898.82,1419.9 2930.52,1401.6 2930.52,1438.2"/>
<polygon points="2977.88,1395.8 3009.58,1377.5 3009.58,1414.1"/>
<path d="M1101,87.9H1239" stroke="#000" stroke-width="3.8" fill="none"/>
<rect x="1159.8" y="77.5" width="20.8" height="20.8"/>
<text transform="translate(1251.87,108.7) scale(0.98,1.03)" font-size="60" class="t">S</text>
<text transform="translate(1284.62,117.7) scale(0.99,1.0)" font-size="34" class="u">0.0</text>
<path d="M1297.1,60L1299.9,60L1295.8,68.9L1294.5,68.9Z"/>
<path d="M1101,174.5H1239" stroke="#000" stroke-width="3.8" fill="none"/>
<circle cx="1170.2" cy="174.5" r="12.2"/>
<text transform="translate(1251.87,195.3) scale(0.98,1.03)" font-size="60" class="t">S</text>
<text transform="translate(1284.62,204.3) scale(0.99,1.0)" font-size="34" class="u">0.1</text>
<path d="M1297.1,146.6L1299.9,146.6L1295.8,155.5L1294.5,155.5Z"/>
<path d="M1101,261.1H1239" stroke="#000" stroke-width="3.8" fill="none"/>
<polygon points="1170.2,244.7 1184.4,269.3 1156,269.3"/>
<text transform="translate(1251.87,281.9) scale(0.98,1.03)" font-size="60" class="t">S</text>
<text transform="translate(1284.62,290.9) scale(0.99,1.0)" font-size="34" class="u">0.2</text>
<path d="M1297.1,233.2L1299.9,233.2L1295.8,242.1L1294.5,242.1Z"/>
<path d="M1101,347.7H1239" stroke="#000" stroke-width="3.8" fill="none"/>
<polygon points="1170.2,364.1 1184.4,339.5 1156,339.5"/>
<text transform="translate(1251.87,368.5) scale(0.98,1.03)" font-size="60" class="t">S</text>
<text transform="translate(1284.62,377.5) scale(0.99,1.0)" font-size="34" class="u">0.3</text>
<path d="M1297.1,319.8L1299.9,319.8L1295.8,328.7L1294.5,328.7Z"/>
<path d="M1101,434.3H1239" stroke="#000" stroke-width="3.8" fill="none"/>
<polygon points="1170.2,419.1 1185.4,434.3 1170.2,449.5 1155,434.3"/>
<text transform="translate(1251.87,455.1) scale(0.98,1.03)" font-size="60" class="t">S</text>
<text transform="translate(1284.62,464.1) scale(0.99,1.0)" font-size="34" class="u">0.4</text>
<path d="M1297.1,406.4L1299.9,406.4L1295.8,415.3L1294.5,415.3Z"/>
<path d="M1101,520.9H1239" stroke="#000" stroke-width="3.8" fill="none"/>
<polygon points="1153.8,520.9 1178.4,506.7 1178.4,535.1"/>
<text transform="translate(1251.87,541.7) scale(0.98,1.03)" font-size="60" class="t">S</text>
<text transform="translate(1284.62,550.7) scale(0.99,1.0)" font-size="34" class="u">0.5</text>
<path d="M1297.1,493L1299.9,493L1295.8,501.9L1294.5,501.9Z"/>
<path d="M2768,376.9H2905.9" stroke="#000" stroke-width="3.8" fill="none"/>
<rect x="2823" y="363.4" width="27" height="27"/>
<text transform="translate(2917.87,397.7) scale(0.98,1.03)" font-size="60" class="t">S</text>
<text transform="translate(2950.72,414.6) scale(0.99,1.0)" font-size="34" class="u">0.0</text>
<path d="M2962.4,354.1L2965.2,354.1L2961.1,363L2959.8,363Z"/>
<path d="M2768,463.5H2905.9" stroke="#000" stroke-width="3.8" fill="none"/>
<circle cx="2836.5" cy="463.5" r="15.3"/>
<text transform="translate(2917.87,484.3) scale(0.98,1.03)" font-size="60" class="t">S</text>
<text transform="translate(2950.72,501.2) scale(0.99,1.0)" font-size="34" class="u">0.1</text>
<path d="M2962.4,440.7L2965.2,440.7L2961.1,449.6L2959.8,449.6Z"/>
<path d="M2768,550H2905.9" stroke="#000" stroke-width="3.8" fill="none"/>
<polygon points="2836.5,528.87 2854.8,560.57 2818.2,560.57"/>
<text transform="translate(2917.87,570.8) scale(0.98,1.03)" font-size="60" class="t">S</text>
<text transform="translate(2950.72,587.7) scale(0.99,1.0)" font-size="34" class="u">0.2</text>
<path d="M2962.4,527.2L2965.2,527.2L2961.1,536.1L2959.8,536.1Z"/>
<path d="M2768,636.8H2905.9" stroke="#000" stroke-width="3.8" fill="none"/>
<polygon points="2836.5,657.93 2854.8,626.23 2818.2,626.23"/>
<text transform="translate(2917.87,657.6) scale(0.98,1.03)" font-size="60" class="t">S</text>
<text transform="translate(2950.72,674.5) scale(0.99,1.0)" font-size="34" class="u">0.3</text>
<path d="M2962.4,614L2965.2,614L2961.1,622.9L2959.8,622.9Z"/>
<path d="M2768,723.9H2905.9" stroke="#000" stroke-width="3.8" fill="none"/>
<polygon points="2836.5,704.5 2855.9,723.9 2836.5,743.3 2817.1,723.9"/>
<text transform="translate(2917.87,744.7) scale(0.98,1.03)" font-size="60" class="t">S</text>
<text transform="translate(2950.72,761.6) scale(0.99,1.0)" font-size="34" class="u">0.4</text>
<path d="M2962.4,701.1L2965.2,701.1L2961.1,710L2959.8,710Z"/>
<path d="M2768,809.9H2905.9" stroke="#000" stroke-width="3.8" fill="none"/>
<polygon points="2815.37,809.9 2847.07,791.6 2847.07,828.2"/>
<text transform="translate(2917.87,830.7) scale(0.98,1.03)" font-size="60" class="t">S</text>
<text transform="translate(2950.72,847.6) scale(0.99,1.0)" font-size="34" class="u">0.5</text>
<path d="M2962.4,787.1L2965.2,787.1L2961.1,796L2959.8,796Z"/>
<path d="M2763.4,1625.7H2897" stroke="#000" stroke-width="3.8" fill="none"/>
<rect x="2816.5" y="1612.2" width="27" height="27"/>
<text transform="translate(2909.47,1646.5) scale(0.98,1.03)" font-size="60" class="t">S</text>
<text transform="translate(2942.32,1663.4) scale(0.99,1.0)" font-size="34" class="u">0.0</text>
<path d="M2954,1602.9L2956.8,1602.9L2952.7,1611.8L2951.4,1611.8Z"/>
<path d="M2763.4,1709.72H2897" stroke="#000" stroke-width="3.8" fill="none"/>
<circle cx="2830" cy="1709.72" r="15.3"/>
<text transform="translate(2909.47,1730.52) scale(0.98,1.03)" font-size="60" class="t">S</text>
<text transform="translate(2942.32,1747.42) scale(0.99,1.0)" font-size="34" class="u">0.1</text>
<path d="M2954,1686.92L2956.8,1686.92L2952.7,1695.82L2951.4,1695.82Z"/>
<path d="M2763.4,1793.74H2897" stroke="#000" stroke-width="3.8" fill="none"/>
<polygon points="2830,1772.61 2848.3,1804.31 2811.7,1804.31"/>
<text transform="translate(2909.47,1814.54) scale(0.98,1.03)" font-size="60" class="t">S</text>
<text transform="translate(2942.32,1831.44) scale(0.99,1.0)" font-size="34" class="u">0.2</text>
<path d="M2954,1770.94L2956.8,1770.94L2952.7,1779.84L2951.4,1779.84Z"/>
<path d="M2763.4,1877.76H2897" stroke="#000" stroke-width="3.8" fill="none"/>
<polygon points="2830,1898.89 2848.3,1867.19 2811.7,1867.19"/>
<text transform="translate(2909.47,1898.56) scale(0.98,1.03)" font-size="60" class="t">S</text>
<text transform="translate(2942.32,1915.46) scale(0.99,1.0)" font-size="34" class="u">0.3</text>
<path d="M2954,1854.96L2956.8,1854.96L2952.7,1863.86L2951.4,1863.86Z"/>
<path d="M2763.4,1961.78H2897" stroke="#000" stroke-width="3.8" fill="none"/>
<polygon points="2830,1942.38 2849.4,1961.78 2830,1981.18 2810.6,1961.78"/>
<text transform="translate(2909.47,1982.58) scale(0.98,1.03)" font-size="60" class="t">S</text>
<text transform="translate(2942.32,1999.48) scale(0.99,1.0)" font-size="34" class="u">0.4</text>
<path d="M2954,1938.98L2956.8,1938.98L2952.7,1947.88L2951.4,1947.88Z"/>
<path d="M2763.4,2045.8H2897" stroke="#000" stroke-width="3.8" fill="none"/>
<polygon points="2808.87,2045.8 2840.57,2027.5 2840.57,2064.1"/>
<text transform="translate(2909.47,2066.6) scale(0.98,1.03)" font-size="60" class="t">S</text>
<text transform="translate(2942.32,2083.5) scale(0.99,1.0)" font-size="34" class="u">0.5</text>
<path d="M2954,2023L2956.8,2023L2952.7,2031.9L2951.4,2031.9Z"/>
<path d="M294.9,1293.8H428.7" stroke="#000" stroke-width="3.8" fill="none"/>
<rect x="348.9" y="1280.3" width="27" height="27"/>
<text transform="translate(441.97,1314.6) scale(0.98,1.03)" font-size="60" class="t">S</text>
<text transform="translate(474.82,1331.5) scale(0.99,1.0)" font-size="34" class="u">0.0</text>
<path d="M486.5,1271L489.3,1271L485.2,1279.9L483.9,1279.9Z"/>
<path d="M294.9,1377.6H428.7" stroke="#000" stroke-width="3.8" fill="none"/>
<circle cx="362.4" cy="1377.6" r="15.3"/>
<text transform="translate(441.97,1398.4) scale(0.98,1.03)" font-size="60" class="t">S</text>
<text transform="translate(474.82,1415.3) scale(0.99,1.0)" font-size="34" class="u">0.1</text>
<path d="M486.5,1354.8L489.3,1354.8L485.2,1363.7L483.9,1363.7Z"/>
<path d="M294.9,1461.2H428.7" stroke="#000" stroke-width="3.8" fill="none"/>
<polygon points="362.4,1440.07 380.7,1471.77 344.1,1471.77"/>
<text transform="translate(441.97,1482) scale(0.98,1.03)" font-size="60" class="t">S</text>
<text transform="translate(474.82,1498.9) scale(0.99,1.0)" font-size="34" class="u">0.2</text>
<path d="M486.5,1438.4L489.3,1438.4L485.2,1447.3L483.9,1447.3Z"/>
<path d="M584.3,1293.8H718.1" stroke="#000" stroke-width="3.8" fill="none"/>
<polygon points="650.7,1314.93 669,1283.23 632.4,1283.23"/>
<text transform="translate(730.07,1314.6) scale(0.98,1.03)" font-size="60" class="t">S</text>
<text transform="translate(762.92,1331.5) scale(0.99,1.0)" font-size="34" class="u">0.3</text>
<path d="M774.6,1271L777.4,1271L773.3,1279.9L772,1279.9Z"/>
<path d="M588.2,1377.6H721.2" stroke="#000" stroke-width="3.8" fill="none"/>
<polygon points="654.3,1358.2 673.7,1377.6 654.3,1397 634.9,1377.6"/>
<text transform="translate(733.97,1398.4) scale(0.98,1.03)" font-size="60" class="t">S</text>
<text transform="translate(766.82,1415.3) scale(0.99,1.0)" font-size="34" class="u">0.4</text>
<path d="M778.5,1354.8L781.3,1354.8L777.2,1363.7L775.9,1363.7Z"/>
<path d="M588.9,1461.2H723" stroke="#000" stroke-width="3.8" fill="none"/>
<polygon points="635.37,1461.2 667.07,1442.9 667.07,1479.5"/>
<text transform="translate(734.77,1482) scale(0.98,1.03)" font-size="60" class="t">S</text>
<text transform="translate(767.62,1498.9) scale(0.99,1.0)" font-size="34" class="u">0.5</text>
<path d="M779.3,1438.4L782.1,1438.4L778,1447.3L776.7,1447.3Z"/>
<text transform="translate(79.83,49.6) scale(0.975,1.025)" font-size="58" class="t">100</text>
<text transform="translate(113.83,340.6) scale(0.975,1.025)" font-size="58" class="t">10</text>
<text transform="translate(148.63,631.5) scale(0.975,1.025)" font-size="58" class="t">1</text>
<text transform="translate(95.55,923.5) scale(0.975,1.025)" font-size="58" class="t">0.1</text>
<text transform="translate(157.75,974.6) scale(0.975,1.025)" font-size="58" class="t">0.1</text>
<text transform="translate(580.83,974.6) scale(0.975,1.025)" font-size="58" class="t">1</text>
<text transform="translate(960.33,974.6) scale(0.975,1.025)" font-size="58" class="t">10</text>
<text transform="translate(1338.83,974.6) scale(0.975,1.025)" font-size="58" class="t">100</text>
<text transform="translate(1687.93,47.5) scale(0.975,1.025)" font-size="58" class="t">100</text>
<text transform="translate(1722.03,339.5) scale(0.975,1.025)" font-size="58" class="t">10</text>
<text transform="translate(1755.03,631) scale(0.975,1.025)" font-size="58" class="t">1</text>
<text transform="translate(1703.45,923) scale(0.975,1.025)" font-size="58" class="t">0.1</text>
<text transform="translate(1764.25,974.4) scale(0.975,1.025)" font-size="58" class="t">0.1</text>
<text transform="translate(2187.03,974.4) scale(0.975,1.025)" font-size="58" class="t">1</text>
<text transform="translate(2567.03,974.4) scale(0.975,1.025)" font-size="58" class="t">10</text>
<text transform="translate(2946.03,974.4) scale(0.975,1.025)" font-size="58" class="t">100</text>
<text transform="translate(32.53,1275.5) scale(0.975,1.025)" font-size="58" class="t">1</text>
<text transform="translate(74.55,1275.5) scale(0.975,1.025)" font-size="58" class="t">000</text>
<text transform="translate(82.33,1452) scale(0.975,1.025)" font-size="58" class="t">100</text>
<text transform="translate(114.73,1628) scale(0.975,1.025)" font-size="58" class="t">10</text>
<text transform="translate(148.03,1804) scale(0.975,1.025)" font-size="58" class="t">1</text>
<text transform="translate(95.55,1980.7) scale(0.975,1.025)" font-size="58" class="t">0.1</text>
<text transform="translate(63.15,2156.3) scale(0.975,1.025)" font-size="58" class="t">0.01</text>
<text transform="translate(156.65,2205.9) scale(0.975,1.025)" font-size="58" class="t">0.1</text>
<text transform="translate(578.03,2205.9) scale(0.975,1.025)" font-size="58" class="t">1</text>
<text transform="translate(957.03,2205.9) scale(0.975,1.025)" font-size="58" class="t">10</text>
<text transform="translate(1333.73,2206.3) scale(0.975,1.025)" font-size="58" class="t">100</text>
<text transform="translate(1647.43,1260.2) scale(0.975,1.025)" font-size="58" class="t">1</text>
<text transform="translate(1688.15,1260.2) scale(0.975,1.025)" font-size="58" class="t">000</text>
<text transform="translate(1697.33,1436.2) scale(0.975,1.025)" font-size="58" class="t">100</text>
<text transform="translate(1728.83,1612.6) scale(0.975,1.025)" font-size="58" class="t">10</text>
<text transform="translate(1761.03,1789.5) scale(0.975,1.025)" font-size="58" class="t">1</text>
<text transform="translate(1710.85,1966) scale(0.975,1.025)" font-size="58" class="t">0.1</text>
<text transform="translate(1678.45,2142.3) scale(0.975,1.025)" font-size="58" class="t">0.01</text>
<text transform="translate(1771.95,2193) scale(0.975,1.025)" font-size="58" class="t">0.1</text>
<text transform="translate(2193.53,2193) scale(0.975,1.025)" font-size="58" class="t">1</text>
<text transform="translate(2572.03,2193) scale(0.975,1.025)" font-size="58" class="t">10</text>
<text transform="translate(2949.73,2192.5) scale(0.975,1.025)" font-size="58" class="t">100</text>
<text transform="translate(81.7,653.4) rotate(-90)" letter-spacing="-0.5" class="k">剪切黏度</text>
<path d="M80.7,419.7L38.7,405" stroke="#000" stroke-width="2.4" fill="none"/>
<text transform="translate(80.2,405.74) rotate(-90) scale(1.0,1.03)" font-size="60" class="t">(</text>
<text transform="translate(80.2,386.73) rotate(-90) scale(1.0,1.0)" font-size="60" class="t">P</text>
<text transform="translate(80.2,352.41) rotate(-90) scale(1.0,1.0)" font-size="60" class="t">a</text>
<circle cx="60.9" cy="316.2" r="2.9"/>
<text transform="translate(80.2,307.06) rotate(-90) scale(1.0,1.0)" font-size="60" class="t">s</text>
<text transform="translate(80.2,284.63) rotate(-90) scale(1.0,1.03)" font-size="60" class="t">)</text>
<text transform="translate(1687.8,607.9) rotate(-90)" letter-spacing="-0.5" class="k">剪切应力</text>
<path d="M1686.8,373.3L1645.3,359.9" stroke="#000" stroke-width="2.4" fill="none"/>
<text transform="translate(1686.3,360.14) rotate(-90) scale(1.0,1.0)" font-size="60.5" class="t">Pa</text>
<text transform="translate(52.1,1852.9) rotate(-90)" letter-spacing="-0.5" class="k">储能模量</text>
<path d="M51.1,1618.3L9.6,1604.9" stroke="#000" stroke-width="2.4" fill="none"/>
<text transform="translate(50.6,1605.14) rotate(-90) scale(1.0,1.0)" font-size="60.5" class="t">Pa</text>
<text transform="translate(1674.1,1837.6) rotate(-90)" letter-spacing="-0.5" class="k">损耗模量</text>
<path d="M1673.1,1603L1631.6,1589.6" stroke="#000" stroke-width="2.4" fill="none"/>
<text transform="translate(1672.6,1589.84) rotate(-90) scale(1.0,1.0)" font-size="60.5" class="t">Pa</text>
<text x="645.5" y="1053.4" class="k">剪切速率</text>
<path d="M880.2,1052.8L894.6,1009.8" stroke="#000" stroke-width="2.4" fill="none"/>
<text transform="translate(895.63,1052.4) scale(1.03,1.0)" font-size="56" class="t">s</text>
<path d="M918.5,1023.2L934.7,1023.2" stroke="#000" stroke-width="2.0" fill="none"/>
<text transform="translate(935.46,1031.6) scale(1.0,1.0)" font-size="33.5" class="u">1</text>
<text x="2250.5" y="1053.4" class="k">剪切速率</text>
<path d="M2485.2,1052.8L2499.6,1009.8" stroke="#000" stroke-width="2.4" fill="none"/>
<text transform="translate(2500.63,1052.4) scale(1.03,1.0)" font-size="56" class="t">s</text>
<path d="M2523.5,1023.2L2539.7,1023.2" stroke="#000" stroke-width="2.0" fill="none"/>
<text transform="translate(2540.46,1031.6) scale(1.0,1.0)" font-size="33.5" class="u">1</text>
<text x="601.1" y="2273" letter-spacing="0.2" class="k">角频率</text>
<path d="M777,2272.8L791.2,2231" stroke="#000" stroke-width="2.4" fill="none"/>
<text transform="translate(790.83,2272.8) scale(1.05,1.03)" font-size="60" class="t">(</text>
<text transform="translate(809.67,2272.8) scale(1.02,1.03)" font-size="60" class="t">rad</text>
<circle cx="895.4" cy="2252.4" r="2.9"/>
<text transform="translate(905.28,2272.8) scale(1.0,1.0)" font-size="59" class="t">s</text>
<path d="M928.1,2243L945.2,2243" stroke="#000" stroke-width="2.0" fill="none"/>
<text transform="translate(946.01,2251.9) scale(1.0,1.0)" font-size="34" class="u">1</text>
<text transform="translate(960.87,2272.8) scale(1.05,1.03)" font-size="60" class="t">)</text>
<text x="2229.6" y="2273" letter-spacing="0.2" class="k">角频率</text>
<path d="M2405.5,2272.8L2419.7,2231" stroke="#000" stroke-width="2.4" fill="none"/>
<text transform="translate(2419.33,2272.8) scale(1.05,1.03)" font-size="60" class="t">(</text>
<text transform="translate(2438.17,2272.8) scale(1.02,1.03)" font-size="60" class="t">rad</text>
<circle cx="2523.9" cy="2252.4" r="2.9"/>
<text transform="translate(2533.78,2272.8) scale(1.0,1.0)" font-size="59" class="t">s</text>
<path d="M2556.6,2243L2573.7,2243" stroke="#000" stroke-width="2.0" fill="none"/>
<text transform="translate(2574.51,2251.9) scale(1.0,1.0)" font-size="34" class="u">1</text>
<text transform="translate(2589.37,2272.8) scale(1.05,1.03)" font-size="60" class="t">)</text>
<text transform="translate(380.53,1141.1) scale(1.0,1.04)" font-size="58.5" class="t">(a)</text>
<text x="460" y="1141.1" class="k">剪切速率</text>
<path d="M694.2,1124.5L721.8,1124.5" stroke="#000" stroke-width="2.2" fill="none"/>
<text x="723.4" y="1141.1" class="k">剪切黏度关系曲线</text>
<text transform="translate(2006.13,1141.1) scale(1.0,1.04)" font-size="58.5" class="t">(b)</text>
<text x="2090" y="1141.1" class="k">剪切速率</text>
<path d="M2324.2,1124.5L2351.8,1124.5" stroke="#000" stroke-width="2.2" fill="none"/>
<text x="2353.4" y="1141.1" class="k">剪切应力关系曲线</text>
<text transform="translate(412.43,2366.9) scale(1.0,1.04)" font-size="58.5" class="t">(c)</text>
<text x="492.9" y="2366.9" class="k">角频率</text>
<path d="M668.8,2350.3L696.4,2350.3" stroke="#000" stroke-width="2.2" fill="none"/>
<text x="698" y="2366.9" class="k">储能模量关系曲线</text>
<text transform="translate(2057.73,2366.9) scale(1.0,1.04)" font-size="58.5" class="t">(d)</text>
<text x="2140.6" y="2366.9" class="k">角频率</text>
<path d="M2316.5,2350.3L2344.1,2350.3" stroke="#000" stroke-width="2.2" fill="none"/>
<text x="2345.7" y="2366.9" class="k">损耗模量关系曲线</text>
</svg>
</body></html>
